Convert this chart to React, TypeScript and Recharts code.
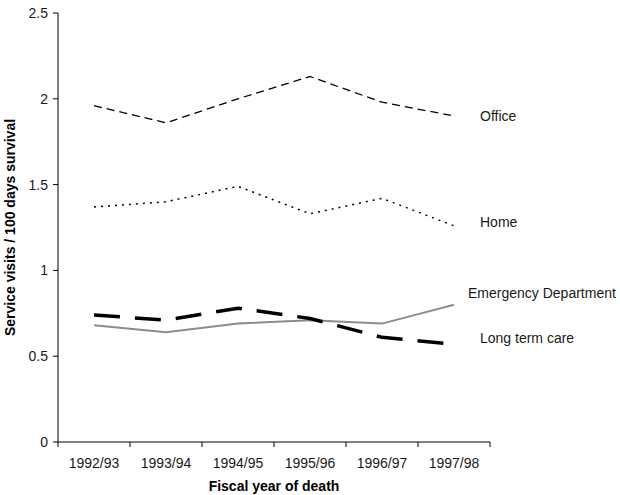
import React from 'react';
import { LineChart, Line, XAxis, YAxis } from 'recharts';

const years = ['1992/93', '1993/94', '1994/95', '1995/96', '1996/97', '1997/98'];
const office = [1.96, 1.86, 2.0, 2.13, 1.98, 1.9];
const home = [1.37, 1.4, 1.49, 1.33, 1.42, 1.26];
const emergency = [0.68, 0.64, 0.69, 0.71, 0.69, 0.8];
const longTerm = [0.74, 0.71, 0.78, 0.72, 0.61, 0.57];
const yTicks = [0, 0.5, 1, 1.5, 2, 2.5];
const centerTicks = [0, 1, 2, 3, 4, 5];
const boundaryTicks = [-0.5, 0.5, 1.5, 2.5, 3.5, 4.5, 5.5];

const data = years.map((y, i) => ({
  idx: i,
  year: y,
  office: office[i],
  home: home[i],
  emergency: emergency[i],
  longTerm: longTerm[i],
}));

const FONT = '"Liberation Sans", Arial, Helvetica, sans-serif';

const endLabel = (text: string, dx: number, dy: number) => (props: any) => {
  const { x, y, index } = props;
  if (index !== years.length - 1) return null;
  return (
    <text x={x + dx} y={y + dy} fontSize={14} fontFamily={FONT} fill="#1a1a1a">
      {text}
    </text>
  );
};

export default function App() {
  return (
    <div style={{ position: 'absolute', left: 0, top: 0, width: 620, height: 495, background: '#fff' }}>
      <LineChart
        width={620}
        height={495}
        data={data}
        margin={{ top: 13, right: 130, bottom: 0, left: 0 }}
      >
        <XAxis
          xAxisId="a_marks"
          type="number"
          dataKey="idx"
          domain={[-0.5, 5.5]}
          ticks={boundaryTicks}
          interval={0}
          tickFormatter={() => ''}
          tickSize={5}
          height={1}
          allowDataOverflow
          axisLine={{ stroke: '#000', strokeWidth: 1 }}
          tickLine={{ stroke: '#000', strokeWidth: 1 }}
        />
        <XAxis
          xAxisId="b_main"
          type="number"
          dataKey="idx"
          domain={[-0.5, 5.5]}
          ticks={centerTicks}
          interval={0}
          tickFormatter={(v: number) => years[v] ?? ''}
          tickSize={0}
          tickMargin={15}
          height={52}
          allowDataOverflow
          axisLine={false}
          tickLine={false}
          tick={{ fontSize: 14, fontFamily: FONT, fill: '#1a1a1a' }}
          label={{
            value: 'Fiscal year of death',
            position: 'insideBottom',
            offset: 4,
            style: { fontSize: 14, fontFamily: FONT, fontWeight: 'bold', fill: '#000' },
          }}
        />
        <YAxis
          domain={[0, 2.5]}
          ticks={yTicks}
          width={58}
          tickSize={5}
          tickMargin={5}
          axisLine={{ stroke: '#000', strokeWidth: 1 }}
          tickLine={{ stroke: '#000', strokeWidth: 1 }}
          tick={{ fontSize: 14, fontFamily: FONT, fill: '#1a1a1a' }}
          label={{
            value: 'Service visits / 100 days survival',
            angle: -90,
            position: 'insideLeft',
            offset: 10,
            style: { textAnchor: 'middle', fontSize: 14, fontFamily: FONT, fontWeight: 'bold', fill: '#000' },
          }}
        />
        <Line
          xAxisId="b_main"
          dataKey="office"
          stroke="#000"
          strokeWidth={1.3}
          strokeDasharray="8 5"
          dot={false}
          activeDot={false}
          isAnimationActive={false}
          label={endLabel('Office', 26, 5.5)}
        />
        <Line
          xAxisId="b_main"
          dataKey="home"
          stroke="#000"
          strokeWidth={1.5}
          strokeDasharray="2 5"
          dot={false}
          activeDot={false}
          isAnimationActive={false}
          label={endLabel('Home', 26, 1.5)}
        />
        <Line
          xAxisId="b_main"
          dataKey="emergency"
          stroke="#8c8c8c"
          strokeWidth={2}
          dot={false}
          activeDot={false}
          isAnimationActive={false}
          label={endLabel('Emergency Department', 14, -7)}
        />
        <Line
          xAxisId="b_main"
          dataKey="longTerm"
          stroke="#000"
          strokeWidth={3.5}
          strokeDasharray="26 15"
          dot={false}
          activeDot={false}
          isAnimationActive={false}
          label={endLabel('Long term care', 26, -1.3)}
        />
      </LineChart>
    </div>
  );
}
